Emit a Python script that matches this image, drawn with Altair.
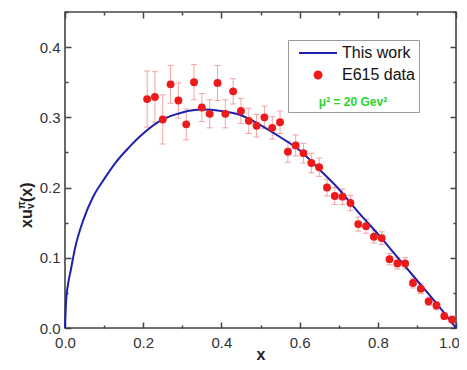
import altair as alt
import pandas as pd

# ---- data ----
x_data = [0.21, 0.23, 0.25, 0.27, 0.29, 0.31, 0.33, 0.35, 0.37, 0.39,
          0.41, 0.43, 0.45, 0.47, 0.49, 0.51, 0.53, 0.55, 0.57, 0.59,
          0.61, 0.63, 0.65, 0.67, 0.69, 0.71, 0.73, 0.75, 0.77, 0.79,
          0.81, 0.83, 0.85, 0.87, 0.89, 0.91, 0.93, 0.95, 0.97, 0.99]
y_data = [0.326, 0.329, 0.297, 0.347, 0.324, 0.290, 0.350, 0.314, 0.305, 0.349,
          0.305, 0.337, 0.309, 0.295, 0.288, 0.300, 0.285, 0.293, 0.251, 0.260,
          0.249, 0.235, 0.229, 0.200, 0.188, 0.187, 0.178, 0.148, 0.145, 0.130,
          0.128, 0.098, 0.092, 0.092, 0.064, 0.056, 0.038, 0.032, 0.017, 0.012]
err_data = [0.040, 0.036, 0.035, 0.027, 0.025, 0.022, 0.025, 0.020, 0.020, 0.025,
            0.020, 0.018, 0.018, 0.018, 0.016, 0.016, 0.016, 0.016, 0.015, 0.015,
            0.014, 0.014, 0.013, 0.012, 0.012, 0.011, 0.011, 0.010, 0.010, 0.009,
            0.009, 0.008, 0.008, 0.008, 0.007, 0.007, 0.006, 0.006, 0.005, 0.005]

curve_x = [0.0, 0.003, 0.008, 0.015, 0.025, 0.047, 0.072, 0.10, 0.13, 0.165,
           0.20, 0.243, 0.30, 0.35, 0.40, 0.45, 0.50, 0.55, 0.60, 0.65,
           0.70, 0.75, 0.80, 0.85, 0.90, 0.95, 1.0]
curve_y = [0.0, 0.040, 0.063, 0.083, 0.112, 0.154, 0.187, 0.212, 0.236, 0.258,
           0.277, 0.295, 0.307, 0.311, 0.309, 0.303, 0.289, 0.272, 0.253, 0.226,
           0.198, 0.165, 0.134, 0.101, 0.068, 0.035, 0.0]

series_names = ["This work", "E615 data"]
x_major = [0.0, 0.2, 0.4, 0.6, 0.8, 1.0]
x_all = [0.0, 0.1, 0.2, 0.3, 0.4, 0.5, 0.6, 0.7, 0.8, 0.9, 1.0]
y_major = [0.0, 0.1, 0.2, 0.3, 0.4]
y_all = [0.0, 0.05, 0.1, 0.15, 0.2, 0.25, 0.3, 0.35, 0.4, 0.45]

FONT = "Liberation Sans"
BLUE = "#1f1fb0"
RED = "#ec1a1a"
FRAME = "#444444"

pts = pd.DataFrame({"x": x_data, "y": y_data, "err": err_data})
crv = pd.DataFrame({"x": curve_x, "y": curve_y})
leg = pd.DataFrame({"series": series_names})
one = pd.DataFrame({"a": [0]})

W, H = 391, 316
sx = alt.Scale(domain=[0, 1], nice=False, zero=False)
sy = alt.Scale(domain=[0, 0.45], nice=False, zero=False)

x_axis = alt.Axis(values=x_major, format=".1f", ticks=False, tickSize=0, domain=False,
                  grid=False, labelFontSize=15, labelColor="#333", labelPadding=7,
                  labelFlush=False, labelFont=FONT,
                  labelOffset={"condition": {"test": "datum.value == 1", "value": -7}, "value": 0},
                  title="x", titleFontSize=16, titleFontWeight="bold", titleColor="#222",
                  titleFont=FONT, titleBaseline="bottom", titleY=34)
y_axis = alt.Axis(values=y_major, format=".1f", ticks=False, tickSize=0, domain=False,
                  grid=False, labelFontSize=15, labelColor="#333", labelPadding=5,
                  labelFlush=False, labelFont=FONT, title=None)

base_pts = alt.Chart(pts)

err_rules = base_pts.transform_calculate(
    lo="datum.y - datum.err", hi="datum.y + datum.err"
).mark_rule(color="#f08c8c", strokeWidth=1, opacity=0.8).encode(
    x=alt.X("x:Q", scale=sx, axis=x_axis),
    y=alt.Y("lo:Q", scale=sy, axis=y_axis),
    y2="hi:Q",
)
caps_hi = base_pts.transform_calculate(hi="datum.y + datum.err").mark_tick(
    color="#f08c8c", orient="horizontal", size=6, thickness=1, opacity=0.8
).encode(x=alt.X("x:Q", scale=sx), y=alt.Y("hi:Q", scale=sy))
caps_lo = base_pts.transform_calculate(lo="datum.y - datum.err").mark_tick(
    color="#f08c8c", orient="horizontal", size=6, thickness=1, opacity=0.8
).encode(x=alt.X("x:Q", scale=sx), y=alt.Y("lo:Q", scale=sy))

line = alt.Chart(crv).mark_line(color=BLUE, strokeWidth=2, interpolate="monotone").encode(
    x=alt.X("x:Q", scale=sx), y=alt.Y("y:Q", scale=sy)
)
points = base_pts.mark_circle(color=RED, size=62, opacity=1).encode(
    x=alt.X("x:Q", scale=sx), y=alt.Y("y:Q", scale=sy)
)

# legend symbols (unit = 8 px with symbolSize 256)
line_path = "M-0.25,0L4.5,0"
dot_path = "M1.7,0A0.43,0.43,0,1,1,2.56,0A0.43,0.43,0,1,1,1.7,0Z"
leg_props = dict(
    orient="none", legendX=223, legendY=28, direction="vertical",
    title="\u00a0\u00a0\u00a0\u00a0\u00a0\u00a0μ² = 20 Gev²", titleOrient="bottom",
    titleColor="#2bd42b", titleFontSize=12, titleFontWeight="bold", titleAnchor="middle",
    titlePadding=14, titleFont=FONT,
    padding=4, strokeColor="#9a9a9a", fillColor="white", labelFontSize=16,
    labelColor="#111", labelFont=FONT, symbolSize=256, symbolOpacity=1,
    symbolStrokeWidth=2, rowPadding=5, labelOffset=32, cornerRadius=0,
)
legend_layer = alt.Chart(leg).mark_point(filled=True, opacity=0).encode(
    color=alt.Color("series:N", scale=alt.Scale(domain=series_names, range=[BLUE, RED]),
                    legend=alt.Legend(**leg_props)),
    stroke=alt.Stroke("series:N", scale=alt.Scale(domain=series_names, range=[BLUE, RED]),
                      legend=alt.Legend(**leg_props)),
    shape=alt.Shape("series:N", scale=alt.Scale(domain=series_names, range=[line_path, dot_path]),
                    legend=alt.Legend(**leg_props)),
)

# y-axis title  x u_v^pi (x) as rotated rich text
tx = -38
t_xu = alt.Chart(one).mark_text(text="xu", angle=270, align="left", baseline="middle",
                                fontSize=16, fontWeight="bold", font=FONT, color="#222").encode(
    x=alt.value(tx), y=alt.value(216))
t_pi = alt.Chart(one).mark_text(text="π", angle=270, align="left", baseline="middle",
                                fontSize=10, fontWeight="bold", font=FONT, color="#222").encode(
    x=alt.value(tx - 5), y=alt.value(197))
t_v = alt.Chart(one).mark_text(text="v", angle=270, align="left", baseline="middle",
                               fontSize=10, fontWeight="bold", font=FONT, color="#222").encode(
    x=alt.value(tx + 4), y=alt.value(197))
t_px = alt.Chart(one).mark_text(text="(x)", angle=270, align="left", baseline="middle",
                                fontSize=16, fontWeight="bold", font=FONT, color="#222").encode(
    x=alt.value(tx), y=alt.value(190))

main = alt.layer(err_rules, caps_hi, caps_lo, line, points, legend_layer,
                 t_xu, t_pi, t_v, t_px)

xtick = {"condition": {"test": "round(datum.value*10) % 2 == 0", "value": 6}, "value": 3}
ytick = {"condition": {"test": "round(datum.value*20) % 2 == 0", "value": 6}, "value": 3}

# inward ticks: bottom & left edges
ticks_a = alt.Chart(pts).mark_point(opacity=0).encode(
    x=alt.X("x:Q", scale=sx, axis=alt.Axis(orient="top", offset=-H, values=x_all, labels=False,
                                           domain=False, grid=False, title=None, tickSize=xtick,
                                           tickColor=FRAME, tickWidth=1.5)),
    y=alt.Y("y:Q", scale=sy, axis=alt.Axis(orient="right", offset=-W, values=y_all, labels=False,
                                           domain=False, grid=False, title=None, tickSize=ytick,
                                           tickColor=FRAME, tickWidth=1.5)),
)
# inward ticks: top & right edges
ticks_b = alt.Chart(pts).mark_point(opacity=0).encode(
    x=alt.X("x:Q", scale=sx, axis=alt.Axis(orient="bottom", offset=-H, values=x_all, labels=False,
                                           domain=False, grid=False, title=None, tickSize=xtick,
                                           tickColor=FRAME, tickWidth=1.5)),
    y=alt.Y("y:Q", scale=sy, axis=alt.Axis(orient="left", offset=-W, values=y_all, labels=False,
                                           domain=False, grid=False, title=None, tickSize=ytick,
                                           tickColor=FRAME, tickWidth=1.5)),
)

chart = alt.layer(main, ticks_a, ticks_b).resolve_scale(
    x="independent", y="independent"
).properties(
    width=W, height=H,
    autosize=alt.AutoSizeParams(type="none"),
    padding={"left": 57, "top": 4, "right": 3, "bottom": 34},
    background="white",
).configure_view(stroke=FRAME, strokeWidth=1.6)

chart.save("out.html", embed_options={"renderer": "svg", "actions": False})
